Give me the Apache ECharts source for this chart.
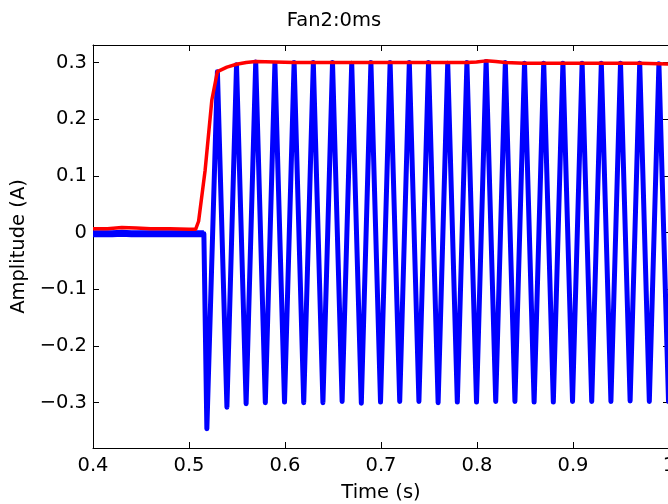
<!DOCTYPE html>
<html>
<head>
<meta charset="utf-8">
<script src="https://cdn.jsdelivr.net/npm/echarts@6/dist/echarts.min.js"></script>
<style>html,body{margin:0;padding:0;background:#fff;}#c{width:668px;height:504px;}</style>
</head>
<body>
<div id="c"></div>
<script>
// ---- data ----
const titleText = 'Fan2:0ms';
const xName = 'Time (s)';
const yName = 'Amplitude (A)';
const xTicks = [0.4, 0.5, 0.6, 0.7, 0.8, 0.9, 1.0];
const yTicks = [-0.3, -0.2, -0.1, 0, 0.1, 0.2, 0.3];
const xRange = [0.4, 1.0];
const yRange = [-0.38, 0.331];

// blue before switch-on: noisy baseline (time s, amplitude A)
const bluePreT = [0.400, 0.420, 0.430, 0.440, 0.460, 0.480, 0.500, 0.5155];
const bluePreV = [-0.002, -0.002, -0.001, -0.002, -0.002, -0.002, -0.002, -0.002];

// blue after switch-on: peaks and troughs (time s, amplitude A)
const blueT = [
  0.5155,
  0.5186, 0.5296, 0.5395, 0.5495, 0.5595, 0.5695, 0.5795, 0.5895, 0.5995, 0.6095,
  0.6195, 0.6295, 0.6395, 0.6495, 0.6595, 0.6695, 0.6795, 0.6895, 0.6995, 0.7095,
  0.7195, 0.7295, 0.7395, 0.7495, 0.7595, 0.7695, 0.7795, 0.7895, 0.7995, 0.8095,
  0.8195, 0.8295, 0.8395, 0.8495, 0.8595, 0.8695, 0.8795, 0.8895, 0.8995, 0.9095,
  0.9195, 0.9295, 0.9395, 0.9495, 0.9595, 0.9695, 0.9795, 0.9895, 0.9995, 1.0095
];
const blueV = [
  -0.002,
  -0.346, 0.284, -0.308, 0.296, -0.302, 0.301, -0.300, 0.299, -0.299, 0.300,
  -0.300, 0.300, -0.300, 0.300, -0.298, 0.299, -0.301, 0.300, -0.299, 0.300,
  -0.298, 0.300, -0.298, 0.300, -0.300, 0.299, -0.299, 0.300, -0.299, 0.302,
  -0.298, 0.300, -0.298, 0.299, -0.299, 0.299, -0.299, 0.299, -0.298, 0.299,
  -0.298, 0.299, -0.298, 0.299, -0.297, 0.299, -0.298, 0.298, -0.298, 0.298
];

// red: envelope (time s, amplitude A)
const redT = [
  0.400, 0.415, 0.430, 0.445, 0.460, 0.480, 0.500, 0.507, 0.510, 0.5168,
  0.5238, 0.5296, 0.5395, 0.5495, 0.5595, 0.5695, 0.5895, 0.6095, 0.6295, 0.6495,
  0.6695, 0.6895, 0.7095, 0.7295, 0.7495, 0.7695, 0.7895, 0.7995, 0.8095, 0.8195,
  0.8295, 0.8495, 0.8695, 0.8895, 0.9095, 0.9295, 0.9495, 0.9695, 0.9895, 1.005
];
const redV = [
  0.007, 0.007, 0.009, 0.008, 0.007, 0.007, 0.006, 0.006, 0.020, 0.110,
  0.234, 0.284, 0.292, 0.297, 0.300, 0.302, 0.301, 0.300, 0.300, 0.300,
  0.300, 0.300, 0.300, 0.300, 0.300, 0.300, 0.300, 0.301, 0.303, 0.302,
  0.300, 0.299, 0.299, 0.299, 0.299, 0.299, 0.299, 0.299, 0.298, 0.297
];

// ---- chart ----
const FONT = 'DejaVu Sans';
const FS = 19.5;
const chart = echarts.init(document.getElementById('c'), null, {renderer: 'canvas'});

function yFmt(v) {
  const r = Math.round(v * 10);
  if (Math.abs(v * 10 - r) > 1e-6) return '';
  if (!yTicks.some(t => Math.abs(t - r / 10) < 1e-9)) return '';
  if (r === 0) return '0';
  return (r < 0 ? '\u2212' : '') + (Math.abs(r) / 10).toFixed(1);
}
function xFmt(v) {
  if (!xTicks.some(t => Math.abs(t - v) < 1e-9)) return '';
  return String(Math.round(v * 10) / 10);
}

const axisLine = {show: true, onZero: false, lineStyle: {color: '#000', width: 1}};
const axisTick = {show: true, inside: true, length: 6, lineStyle: {color: '#000', width: 1}};
const labelStyle = {color: '#000', fontFamily: FONT, fontSize: FS};

chart.setOption({
  animation: false,
  backgroundColor: '#fff',
  title: {
    text: titleText, left: 'center', top: 6,
    textStyle: {color: '#000', fontFamily: FONT, fontSize: FS, fontWeight: 'normal'}
  },
  grid: {left: 93, top: 45, width: 576, height: 403, containLabel: false, outerBoundsMode: 'none'},
  xAxis: [
    {
      type: 'value', position: 'bottom', min: xRange[0], max: xRange[1], interval: 0.1,
      axisLine, axisTick, splitLine: {show: false},
      axisLabel: Object.assign({margin: 8, formatter: xFmt, hideOverlap: false}, labelStyle),
      name: xName, nameLocation: 'middle', nameGap: 35,
      nameTextStyle: labelStyle
    },
    {
      type: 'value', position: 'top', min: xRange[0], max: xRange[1], interval: 0.1,
      axisLine, axisTick, splitLine: {show: false}, axisLabel: {show: false}
    }
  ],
  yAxis: [
    {
      type: 'value', position: 'left', min: yRange[0], max: yRange[1], splitNumber: 7,
      axisLine, axisTick, splitLine: {show: false},
      axisLabel: Object.assign({margin: 6, formatter: yFmt}, labelStyle),
      name: yName, nameLocation: 'middle', nameGap: 47, nameRotate: 90,
      nameTextStyle: labelStyle
    },
    {
      type: 'value', position: 'right', min: yRange[0], max: yRange[1], splitNumber: 7,
      axisLine, axisTick, splitLine: {show: false}, axisLabel: {show: false}
    }
  ],
  series: [
    {
      type: 'line', xAxisIndex: 0, yAxisIndex: 0, showSymbol: false, clip: true,
      data: bluePreT.map((t, i) => [t, bluePreV[i]]),
      lineStyle: {color: '#0000ff', width: 7, cap: 'butt'},
      itemStyle: {color: '#0000ff'}
    },
    {
      type: 'line', xAxisIndex: 0, yAxisIndex: 0, showSymbol: false, clip: true,
      data: blueT.map((t, i) => [t, blueV[i]]),
      lineStyle: {color: '#0000ff', width: 5, join: 'round', cap: 'round'},
      itemStyle: {color: '#0000ff'}
    },
    {
      type: 'line', xAxisIndex: 0, yAxisIndex: 0, showSymbol: false, clip: true,
      data: redT.map((t, i) => [t, redV[i]]),
      lineStyle: {color: '#ff0000', width: 3.5, join: 'round'},
      itemStyle: {color: '#ff0000'}
    }
  ]
});
</script>
</body>
</html>
